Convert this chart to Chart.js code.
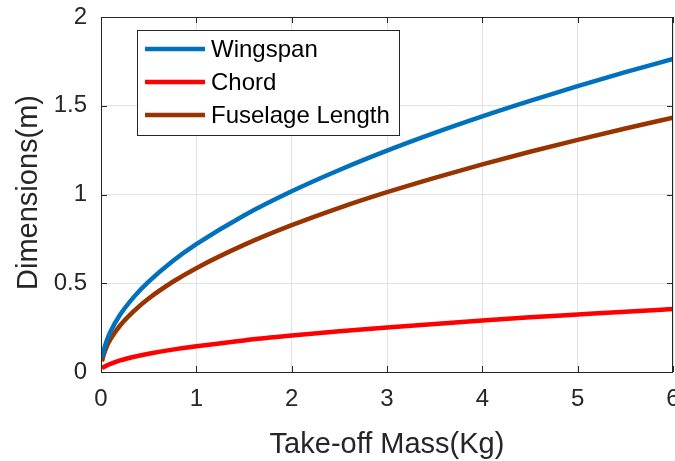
<!DOCTYPE html>
<html>
<head>
<meta charset="utf-8">
<script src="https://cdn.jsdelivr.net/npm/chart.js@4/dist/chart.umd.min.js"></script>
<style>
html,body{margin:0;padding:0;background:#fff;}
canvas{display:block;}
</style>
</head>
<body>
<canvas id="c" width="675" height="461"></canvas>
<script>
// ---- data ----
const massKg = [0.01, 0.03, 0.06, 0.1, 0.2, 0.35, 0.5, 0.75, 1, 1.5, 2, 2.5, 3, 3.5, 4, 4.5, 5, 5.5, 6];
const wingspan = [0.08, 0.125, 0.176, 0.228, 0.322, 0.426, 0.509, 0.624, 0.72, 0.882, 1.018, 1.138, 1.247, 1.347, 1.44, 1.527, 1.61, 1.689, 1.764];
const chord = [0.022, 0.028, 0.037, 0.046, 0.065, 0.086, 0.103, 0.126, 0.145, 0.178, 0.205, 0.229, 0.251, 0.271, 0.29, 0.308, 0.324, 0.34, 0.355];
const fuselageLength = [0.06, 0.10, 0.143, 0.185, 0.262, 0.346, 0.414, 0.507, 0.585, 0.716, 0.827, 0.925, 1.013, 1.094, 1.17, 1.241, 1.308, 1.372, 1.433];
const seriesNames = ['Wingspan', 'Chord', 'Fuselage Length'];
const xTickLabels = ['0', '1', '2', '3', '4', '5', '6'];
const yTickLabels = ['0', '0.5', '1', '1.5', '2'];
const xTitle = 'Take-off Mass(Kg)';
const yTitle = 'Dimensions(m)';

const FONT = '"Liberation Sans", Arial, Helvetica, sans-serif';
const TXT = '#262626';
const colors = ['#0072BD', '#FF0000', '#993300'];

function pts(ys){ return massKg.map((x,i)=>({x:x, y:ys[i]})); }

const frame = {
  id: 'frame',
  afterDatasetsDraw(chart){
    const ctx = chart.ctx, a = chart.chartArea;
    const xs = chart.scales.x, ys = chart.scales.y;
    ctx.save();
    ctx.strokeStyle = TXT; ctx.lineWidth = 1;
    ctx.strokeRect(Math.round(a.left)+0.5, Math.round(a.top)+0.5, Math.round(a.right-a.left)-1, Math.round(a.bottom-a.top));
    const L = 6;
    ctx.beginPath();
    xs.ticks.forEach(t=>{
      const px = Math.round(xs.getPixelForValue(t.value))+0.5;
      ctx.moveTo(px, a.bottom); ctx.lineTo(px, a.bottom-L);
      ctx.moveTo(px, a.top); ctx.lineTo(px, a.top+L);
    });
    ys.ticks.forEach(t=>{
      const py = Math.round(ys.getPixelForValue(t.value))+0.5;
      ctx.moveTo(a.left, py); ctx.lineTo(a.left+L, py);
      ctx.moveTo(a.right, py); ctx.lineTo(a.right-L, py);
    });
    ctx.stroke();

    // legend box
    const bx=137, by=30, bw=262, bh=105;
    ctx.fillStyle='#fff';
    ctx.fillRect(bx,by,bw,bh);
    ctx.strokeStyle=TXT;
    ctx.strokeRect(bx+0.5,by+0.5,bw,bh);
    ctx.font = '24px ' + FONT;
    ctx.textBaseline='middle';
    ctx.textAlign='left';
    chart.data.datasets.forEach((d,i)=>{
      const yy = 49 + i*33;
      ctx.strokeStyle=d.borderColor; ctx.lineWidth=4.5;
      ctx.beginPath(); ctx.moveTo(145,yy); ctx.lineTo(205,yy); ctx.stroke();
      ctx.fillStyle='#000';
      ctx.fillText(d.label, 211, yy+1);
    });

    // axis titles
    ctx.fillStyle=TXT;
    ctx.font = '29px ' + FONT;
    ctx.textAlign='center';
    ctx.textBaseline='alphabetic';
    ctx.fillText(xTitle, (a.left+a.right)/2, 453);
    ctx.save();
    ctx.translate(37, (a.top+a.bottom)/2 - 2);
    ctx.rotate(-Math.PI/2);
    ctx.fillText(yTitle, 0, 0);
    ctx.restore();
    ctx.restore();
  }
};

new Chart(document.getElementById('c'), {
  type: 'line',
  data: {
    datasets: [
      {label: seriesNames[0], data: pts(wingspan), borderColor: colors[0]},
      {label: seriesNames[1], data: pts(chord), borderColor: colors[1]},
      {label: seriesNames[2], data: pts(fuselageLength), borderColor: colors[2]}
    ].map(d=>Object.assign(d,{borderWidth:4.5, pointRadius:0, fill:false, cubicInterpolationMode:'monotone'}))
  },
  options: {
    responsive: false,
    animation: false,
    layout: {padding: {top: 17, right: 2, left: 0, bottom: 0}},
    plugins: {legend: {display: false}, tooltip: {enabled: false}},
    scales: {
      x: {
        type: 'linear', min: 0, max: 6,
        afterFit(s){ s.height = 89; s.paddingLeft = 0; s.paddingRight = 0; },
        afterBuildTicks(s){ s.ticks = xTickLabels.map(v=>({value: parseFloat(v)})); },
        ticks: {font: {size: 24, family: FONT}, color: TXT, padding: 13, maxRotation: 0,
                callback: (v)=> xTickLabels.find(l=>parseFloat(l)===v)},
        grid: {color: '#e2e2e2', drawTicks: false},
        border: {display: false}
      },
      y: {
        type: 'linear', min: 0, max: 2,
        afterFit(s){ s.width = 101; s.paddingTop = 0; s.paddingBottom = 0; },
        afterBuildTicks(s){ s.ticks = yTickLabels.map(v=>({value: parseFloat(v)})); },
        ticks: {font: {size: 24, family: FONT}, color: TXT, padding: 14,
                callback: (v)=> yTickLabels.find(l=>parseFloat(l)===v)},
        grid: {color: '#e2e2e2', drawTicks: false},
        border: {display: false}
      }
    }
  },
  plugins: [frame]
});
</script>
</body>
</html>
